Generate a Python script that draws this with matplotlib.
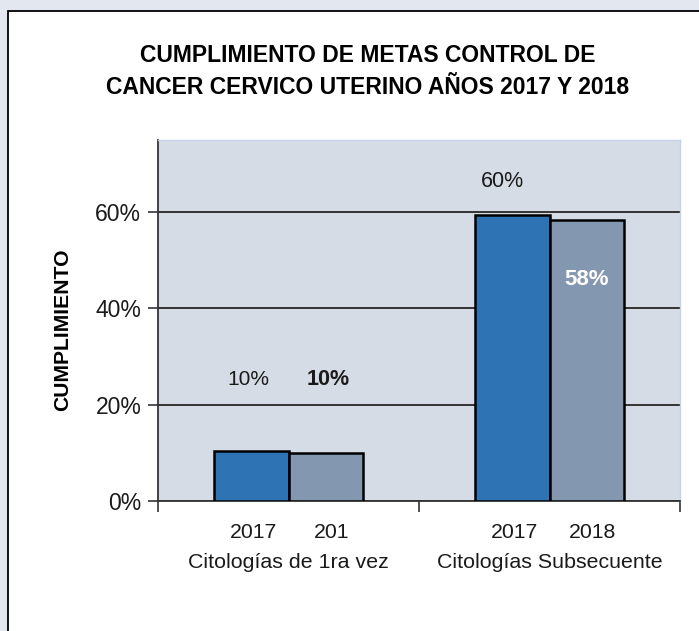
import matplotlib
matplotlib.use("Agg")
import matplotlib.pyplot as plt
from matplotlib.patches import Rectangle
import matplotlib.transforms as mtransforms
import numpy as np

# ---- data ----
categories = ["Citologías de 1ra vez", "Citologías Subsecuente"]
years = ["2017", "2018"]
year_ticklabels = [["2017", "201"], ["2017", "2018"]]
values_2017 = [10.3, 59.5]
values_2018 = [10.0, 58.4]
labels_2017 = ["10%", "60%"]
labels_2018 = ["10%", "58%"]
yticks = [0, 20, 40, 60]
yticklabels = ["0%", "20%", "40%", "60%"]

title = "CUMPLIMIENTO DE METAS CONTROL DE\nCANCER CERVICO UTERINO AÑOS 2017 Y 2018"
ylabel = "CUMPLIMIENTO"

plt.rcParams['font.family'] = ['Liberation Sans', 'DejaVu Sans']

W, H = 699, 631
fig = plt.figure(figsize=(W / 100, H / 100), dpi=100)
fig.patch.set_facecolor('#e3e7f0')

# white chart box
box = Rectangle((8 / W, -0.1), 1.2, 1 - 11 / H + 0.1, transform=fig.transFigure,
                facecolor='white', edgecolor='black', lw=1.3, zorder=-10)
fig.patches.append(box)

ax = fig.add_axes([158 / W, 1 - 501 / H, (680 - 158) / W, (501 - 140) / H])
ax.set_facecolor('#d6dce5')

x = np.arange(len(categories))
w = 0.287
b1 = ax.bar(x - w / 2, values_2017, w, color='#2e74b5', edgecolor='black', lw=1.8, zorder=3)
b2 = ax.bar(x + w / 2, values_2018, w, color='#8497b0', edgecolor='black', lw=1.8, zorder=3)

ax.set_xlim(-0.5, 1.5)
ax.set_ylim(0, 75)
ax.set_yticks(yticks)
ax.set_yticklabels(yticklabels)
ax.set_xticks([-0.5, 0.5, 1.5])
ax.set_xticklabels([])
ax.tick_params(axis='y', direction='out', length=7, width=1.2, color='#333333',
               labelsize=16.5, labelcolor='#1a1a1a', pad=5)
ax.tick_params(axis='x', direction='out', length=8, width=1.2, color='#333333')
ax.yaxis.grid(True, color='#262626', lw=1.3, zorder=1)
ax.set_axisbelow(True)
for s in ['left', 'bottom']:
    ax.spines[s].set_color('#333333')
    ax.spines[s].set_linewidth(1.3)
for s in ['top', 'right']:
    ax.spines[s].set_color('#c4d3ea')
    ax.spines[s].set_linewidth(1.0)

# data labels
ax.text(x[0] - w / 2 - 0.01, values_2017[0] + 15, labels_2017[0], ha='center', va='center',
        fontsize=15, color='#1a1a1a')
ax.text(x[0] + w / 2 + 0.01, values_2018[0] + 15.2, labels_2018[0], ha='center', va='center',
        fontsize=15.5, weight='bold', color='#1a1a1a')
ax.text(x[1] - w / 2 - 0.035, values_2017[1] + 6.8, labels_2017[1], ha='center', va='center',
        fontsize=15.5, color='#1a1a1a')
ax.text(x[1] + w / 2, values_2018[1] - 12.4, labels_2018[1], ha='center', va='center',
        fontsize=16, weight='bold', color='white')

# category axis labels (two levels)
trans = mtransforms.blended_transform_factory(ax.transData, ax.transAxes)
off = mtransforms.ScaledTranslation(0, -31 / 100, fig.dpi_scale_trans)
off2 = mtransforms.ScaledTranslation(0, -62 / 100, fig.dpi_scale_trans)
for i, cat in enumerate(categories):
    ax.text(x[i] - w / 2 + 0.01, 0, year_ticklabels[i][0], transform=trans + off,
            ha='center', va='center', fontsize=15.3, color='#1a1a1a')
    ax.text(x[i] + w / 2 + 0.02, 0, year_ticklabels[i][1], transform=trans + off,
            ha='center', va='center', fontsize=15.3, color='#1a1a1a')
    ax.text(x[i], 0, cat, transform=trans + off2, ha='center', va='center',
            fontsize=15.4, color='#1a1a1a')

fig.text(368 / W, 1 - 72 / H, title, ha='center', va='center', fontsize=16.5,
         weight='bold', linespacing=1.5, color='black')
fig.text(63 / W, 1 - 330 / H, ylabel, rotation=90, ha='center', va='center',
         fontsize=15.2, weight='bold', color='black')

fig.savefig('out.png', dpi=100, facecolor=fig.get_facecolor())
